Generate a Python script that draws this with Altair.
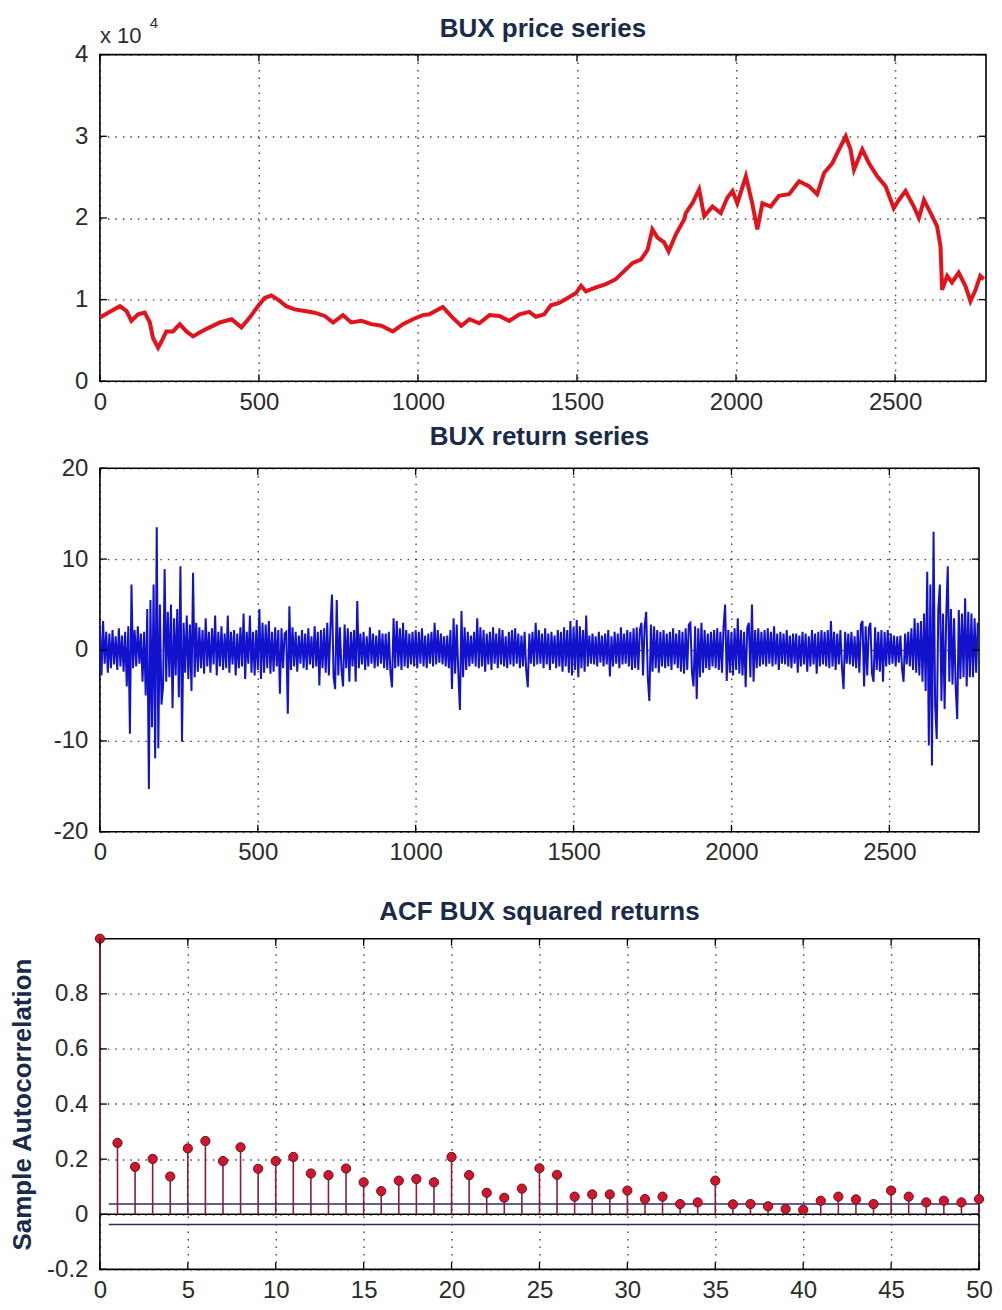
import altair as alt
import pandas as pd

FONT = "Liberation Sans"
TITLE_COLOR = "#1b2a4a"
LABEL_COLOR = "#2b2b2b"

# ---------------- data ----------------
price_t = [0, 26, 63, 84, 99, 120, 141, 157, 167, 183, 194, 209, 230, 251, 272, 293, 319, 345, 377, 414,
           445, 471, 497, 518, 539, 560, 586, 612, 644, 675, 707, 733, 764, 790, 822, 853, 885, 921, 953, 984,
           1015, 1036, 1078, 1109, 1136, 1162, 1193, 1225, 1256, 1287, 1319, 1350, 1371, 1397, 1418, 1444, 1471,
           1497, 1513, 1528, 1560, 1591, 1622, 1654, 1675, 1701, 1722, 1737, 1753, 1774, 1788, 1811, 1837, 1842,
           1863, 1884, 1900, 1926, 1952, 1973, 1989, 2004, 2031, 2051, 2067, 2083, 2109, 2135, 2167, 2198, 2229,
           2255, 2277, 2303, 2324, 2345, 2360, 2371, 2397, 2418, 2444, 2470, 2496, 2512, 2533, 2559, 2575, 2591,
           2612, 2632, 2643, 2648, 2664, 2679, 2700, 2721, 2737, 2753, 2768, 2779]
price_v = [7800, 8400, 9200, 8600, 7400, 8200, 8400, 7200, 5300, 4100, 4900, 6100, 6100, 7000, 6100, 5500,
           6100, 6600, 7200, 7600, 6600, 7800, 9200, 10200, 10500, 10000, 9200, 8800, 8600, 8400, 8000, 7200,
           8100, 7200, 7400, 7000, 6800, 6100, 7000, 7600, 8100, 8200, 9100, 7800, 6800, 7600, 7100, 8100, 8000,
           7400, 8200, 8500, 7900, 8200, 9300, 9600, 10200, 10800, 11700, 11000, 11500, 11900, 12500, 13700,
           14500, 14900, 16100, 18600, 17600, 17000, 15900, 18000, 19800, 20600, 21800, 23500, 20200, 21400,
           20600, 22500, 23300, 21800, 25100, 21800, 18600, 21800, 21400, 22700, 22900, 24500, 23900, 22900,
           25500, 26700, 28400, 30000, 28400, 25900, 28400, 26700, 25100, 23900, 21200, 22200, 23300, 21400,
           20000, 22200, 20600, 19000, 16500, 11200, 12900, 12100, 13300, 11700, 9800, 11200, 12900, 12500]

# BUX returns, one value every 5 trading days (rows of 100 days)
returns = [
    2.5, -2.8, 3.2, -1.5, 2.0, -2.5, 1.8, -2.0, 2.2, -1.6, 1.5, -2.2, 2.4, -1.8, 1.6, -2.4, 2.0, -4.0, 2.6, -9.2,
    7.2, -2.0, 2.2, -1.8, 2.6, -1.5, 1.8, -3.5, 2.0, -5.0, 4.5, -15.3, 5.5, -8.5, 7.2, -11.9, 13.5, -10.8, 5.0, -6.0,
    -4.0, 8.9, -3.5, 4.2, -3.0, 5.0, -6.4, 3.5, -2.8, 4.5, -5.2, 9.2, -10.1, 3.0, -2.5, 3.8, -3.2, 2.8, -4.5, 8.5,
    -3.0, 3.0, -2.4, 2.5, -2.0, 2.2, -2.6, 3.5, -1.8, 2.0, -2.5, 2.4, -1.6, 3.8, -2.8, 2.0, -1.8, 2.6, -2.2, 1.8,
    -2.0, 3.8, -2.5, 2.0, -1.6, 2.2, -2.8, 1.8, -2.0, 2.5, -1.8, 4.0, -3.2, 2.0, -1.5, 3.8, -2.5, 2.0, -2.8, 2.2,
    -2.2, 4.5, -3.2, 3.0, -2.5, 2.8, -2.0, 3.2, -2.6, 2.0, -2.4, 2.5, -1.8, 2.2, -4.8, 2.4, -2.0, 1.8, 2.0, -7.0,
    4.8, -2.2, 2.5, -1.8, 2.0, -2.4, 1.6, -1.5, 2.2, -2.0, 1.8, -2.2, 2.4, -1.6, 1.5, -2.0, 2.6, -1.8, 2.0, -3.9,
    2.2, -2.0, 2.4, -2.5, 3.0, -2.8, 2.5, 6.1, -3.0, -4.3, 5.5, -2.8, 2.5, -2.2, -4.0, 2.8, -2.0, 2.4, -3.5, 2.0,
    -1.8, 2.2, -3.5, 5.4, -2.0, 1.8, -1.6, 2.0, -2.2, 1.5, -1.8, 2.5, -1.5, 1.8, -2.0, 1.6, -1.8, 2.2, -1.5, 1.8,
    -2.0, 1.8, -2.2, 2.0, -2.5, -4.1, 3.5, -2.0, 3.2, -1.8, 2.4, -2.2, 3.0, -1.8, 2.2, -2.0, 1.8, -1.6, 2.0, -1.8,
    2.2, -2.0, 2.0, -1.5, 2.4, -1.8, 1.6, -2.0, 1.8, -1.5, 2.0, -1.8, 3.0, -1.6, 2.2, -1.4, 1.8, -1.6, 1.5, -1.8,
    1.6, -2.0, 2.2, -4.3, 3.5, -2.6, 2.8, -2.5, -6.6, 4.3, -3.0, 2.5, -2.2, 2.0, -1.8, 1.6, -1.5, 2.0, -1.8, 3.5,
    -2.0, 2.5, -1.8, 2.2, -2.4, 1.8, -1.6, 2.0, -2.2, 2.5, -1.5, 1.8, -2.0, 2.4, -1.6, 2.2, -1.8, 1.5, -2.0, 2.0,
    -1.6, 2.2, -1.8, 2.4, -1.5, 1.8, -2.0, 1.6, -1.8, 2.0, -2.2, -4.1, 1.8, -1.5, 2.0, -1.8, 3.0, -1.6, 2.2, -1.5,
    1.8, -2.0, 2.4, -1.6, 1.8, -2.2, 2.0, -1.5, 1.6, -2.0, 2.2, -1.8, 2.0, -2.4, 2.5, -1.8, 2.2, -2.5, 3.2, -2.8,
    2.5, -2.2, 3.3, -3.0, 2.6, -2.0, 2.2, -2.4, 3.8, -1.8, 1.6, -1.5, 1.8, -1.6, 1.5, -1.8, 2.0, -1.4, 1.6, -1.8,
    1.8, -1.6, 2.2, -2.9, 1.5, -1.8, 2.0, -1.5, 1.8, -2.0, 2.5, -1.6, 1.8, -1.5, 2.2, -1.8, 2.0, -2.2, 2.4, -2.0,
    2.5, -2.2, 2.2, 3.0, -2.8, 2.6, 4.2, -3.0, -5.6, 2.8, -2.4, 2.6, -2.0, 2.2, -2.5, 2.0, -1.8, 2.2, -2.0, 1.8,
    -1.8, 2.0, -2.2, 2.4, -1.6, 1.8, -2.0, 2.2, -2.4, 2.0, -2.6, 2.4, -2.2, 2.8, 3.0, -2.5, -4.0, 2.6, -5.4, 2.4,
    -3.0, 3.0, -2.5, 2.2, -2.0, 1.8, -2.2, 2.0, -1.8, 2.2, -2.0, 2.4, -2.2, 2.0, -2.5, 2.6, 5.0, -3.4, 2.2, -2.5,
    2.0, -2.8, 2.4, -2.2, 3.5, -2.6, 2.2, -2.8, 2.0, -4.1, 2.4, 3.0, -3.0, 5.0, -3.5, 2.2, -2.0, 2.4, -1.8, 2.0,
    -1.6, 2.2, -1.8, 2.4, -1.5, 2.0, -1.8, 2.6, -1.6, 1.8, -2.2, 2.0, -1.5, 1.8, -1.6, 2.2, -1.8, 1.6, -2.0, 1.8,
    -1.5, 1.8, -2.5, 1.6, -1.8, 2.0, -1.6, 1.8, -2.4, 1.5, -1.8, 2.2, -1.6, 1.8, -2.6, 2.0, -1.8, 2.2, -1.6, 2.0,
    -1.8, 2.2, -2.0, 3.2, -1.8, 2.0, -2.2, 1.8, -1.6, 2.2, -2.0, -4.3, 2.0, -1.5, 1.8, -1.6, 2.0, -1.8, 1.5, -2.0,
    2.2, -2.5, 2.8, 3.2, -4.0, 2.6, -2.8, 2.4, 3.0, -2.6, -3.5, 2.5, -2.2, 2.0, -2.4, 2.2, -3.5, 2.0, -1.8, 2.2,
    -1.6, 1.8, -1.5, 1.6, -1.8, 1.5, -1.4, 1.6, -2.0, -3.5, 1.8, -1.6, 2.0, -1.8, 2.4, -2.2, 3.5, -2.5, 3.0, -2.8,
    3.2, -3.5, 4.0, -4.5, 8.6, -10.5, 7.2, -12.7, 13.0, -6.0, -9.8, 4.5, 7.2, -5.6, 4.0, -6.5, 3.5, 9.2, -3.5, 4.5,
    -3.8, 3.5, -4.0, -7.6, 4.4, -3.2, 4.0, -3.0, 5.7, -4.0, 4.2, -3.0, 4.0, -3.0, 3.5, -2.5, 3.0,
]
return_step = 5

acf_vals = [1.0, 0.259, 0.172, 0.201, 0.137, 0.239, 0.266, 0.193, 0.243, 0.165, 0.193,
            0.208, 0.148, 0.142, 0.166, 0.116, 0.084, 0.122, 0.128, 0.116, 0.208,
            0.142, 0.078, 0.060, 0.093, 0.167, 0.143, 0.064, 0.072, 0.072, 0.086,
            0.055, 0.064, 0.037, 0.043, 0.122, 0.036, 0.037, 0.029, 0.019, 0.016,
            0.049, 0.064, 0.054, 0.037, 0.086, 0.064, 0.043, 0.049, 0.043, 0.055]
conf_bound = [0.037, -0.037]
bound_lags = [0.5, 50]

price_xticks = [0, 500, 1000, 1500, 2000, 2500]
price_yticks = [0, 10000, 20000, 30000, 40000]
ret_yticks = [-20, -10, 0, 10, 20]
acf_xticks = [0, 5, 10, 15, 20, 25, 30, 35, 40, 45, 50]
acf_yticks = [-0.2, 0, 0.2, 0.4, 0.6, 0.8]
multiplier = ["x 10", "4"]

titles = ["BUX price series", "BUX return series", "ACF BUX squared returns"]
ylabel_acf = "Sample Autocorrelation"

# ---------------- layout ----------------
W1, H1 = 887, 327
W2, H2 = 880, 364
W3, H3 = 880, 331
TICK = 7

price_df = pd.DataFrame({"t": price_t, "v": price_v})
ret_df = pd.DataFrame({"t": [i * return_step for i in range(len(returns))], "v": returns})
acf_df = pd.DataFrame({"t": list(range(len(acf_vals))), "v": acf_vals})
bounds_df = pd.DataFrame({"t": [bound_lags[0]] * 2, "t2": [bound_lags[1]] * 2, "v": conf_bound})
base_df = pd.DataFrame({"t": [0], "t2": [bound_lags[1]], "v": [0]})


def inward_ticks(xvals, yvals, W, H):
    xt = pd.DataFrame({"t": xvals})
    yt = pd.DataFrame({"v": yvals})
    r = dict(color="black", strokeWidth=1.3)
    return [
        alt.Chart(xt).mark_rule(**r).encode(x="t:Q", y=alt.value(H), y2=alt.value(H - TICK)),
        alt.Chart(xt).mark_rule(**r).encode(x="t:Q", y=alt.value(0), y2=alt.value(TICK)),
        alt.Chart(yt).mark_rule(**r).encode(y="v:Q", x=alt.value(0), x2=alt.value(TICK)),
        alt.Chart(yt).mark_rule(**r).encode(y="v:Q", x=alt.value(W), x2=alt.value(W - TICK)),
    ]


def title(text, off):
    return alt.TitleParams(text=text, font=FONT, fontSize=26, fontWeight="bold",
                           color=TITLE_COLOR, offset=off)


int_label = "datum.value < 0 ? '-' + (-datum.value) : '' + datum.value"

# ---- price panel ----
xs1 = alt.X("t:Q", scale=alt.Scale(domain=[0, 2786], nice=False, zero=False),
            axis=alt.Axis(values=price_xticks, labelExpr=int_label, title=None))
ys1 = alt.Y("v:Q", scale=alt.Scale(domain=[0, 40000], nice=False),
            axis=alt.Axis(values=price_yticks, labelExpr="'' + (datum.value / 10000)", title=None))
price_line = alt.Chart(price_df).mark_line(color="#e3121b", strokeWidth=4, strokeJoin="miter").encode(x=xs1, y=ys1)
mult = alt.Chart(pd.DataFrame({"txt": [multiplier[0]]})).mark_text(
    align="left", baseline="alphabetic", font=FONT, fontSize=22, color=LABEL_COLOR
).encode(x=alt.value(0), y=alt.value(-12), text="txt:N")
expo = alt.Chart(pd.DataFrame({"txt": [multiplier[1]]})).mark_text(
    align="left", baseline="alphabetic", font=FONT, fontSize=15, color=LABEL_COLOR
).encode(x=alt.value(50), y=alt.value(-27), text="txt:N")
top_title = alt.Chart(pd.DataFrame({"txt": [titles[0]]})).mark_text(
    align="center", baseline="alphabetic", font=FONT, fontSize=26, fontWeight="bold", color=TITLE_COLOR
).encode(x=alt.value(W1 / 2), y=alt.value(-18), text="txt:N")
top = alt.layer(price_line, *inward_ticks(price_xticks, price_yticks, W1, H1), mult, expo, top_title).properties(
    width=W1, height=H1)

# ---- return panel ----
xs2 = alt.X("t:Q", scale=alt.Scale(domain=[0, 2784], nice=False, zero=False),
            axis=alt.Axis(values=price_xticks, labelExpr=int_label, title=None))
ys2 = alt.Y("v:Q", scale=alt.Scale(domain=[-20, 20], nice=False),
            axis=alt.Axis(values=ret_yticks, labelExpr=int_label, title=None))
ret_line = alt.Chart(ret_df).mark_line(color="#1212cc", strokeWidth=2.0).encode(x=xs2, y=ys2)
mid = alt.layer(ret_line, *inward_ticks(price_xticks, ret_yticks, W2, H2)).properties(
    width=W2, height=H2, title=title(titles[1], 6))

# ---- ACF panel ----
acf_label = "datum.value == 0 ? '0' : (datum.value < 0 ? '-' + format(-datum.value, '.1f') : format(datum.value, '.1f'))"
xs3 = alt.X("t:Q", scale=alt.Scale(domain=[0, 50], nice=False, zero=False),
            axis=alt.Axis(values=acf_xticks, labelExpr=int_label, title=None))
ys3 = alt.Y("v:Q", scale=alt.Scale(domain=[-0.2, 1.0], nice=False),
            axis=alt.Axis(values=acf_yticks, labelExpr=acf_label, title=ylabel_acf,
                          titleFont=FONT, titleFontSize=26, titleFontWeight="bold",
                          titleColor=TITLE_COLOR, titlePadding=11))
base_line = alt.Chart(base_df).mark_rule(color="black", strokeWidth=1.5).encode(x=xs3, x2="t2:Q", y=ys3)
bound_lines = alt.Chart(bounds_df).mark_rule(color="#2e2a6e", strokeWidth=1.6).encode(x="t:Q", x2="t2:Q", y="v:Q")
stems = alt.Chart(acf_df).mark_rule(color="#8a1c3e", strokeWidth=1.6).encode(x="t:Q", y="v:Q", y2=alt.datum(0))
dots = alt.Chart(acf_df).mark_circle(size=85, color="#d0162c", stroke="#6e0c20", strokeWidth=1,
                                     opacity=1).encode(x="t:Q", y="v:Q")
bot = alt.layer(base_line, bound_lines, stems, dots, *inward_ticks(acf_xticks, acf_yticks, W3, H3)).properties(
    width=W3, height=H3, title=title(titles[2], 7))

upper = alt.vconcat(top, mid, spacing=8)
chart = alt.vconcat(upper, bot, spacing=32).properties(
    padding={"left": 0, "top": 6, "right": 0, "bottom": 0}
).configure_view(
    stroke="black", strokeWidth=1.6
).configure_axis(
    labelFont=FONT, labelFontSize=24, labelColor=LABEL_COLOR, labelPadding=9,
    ticks=False, domain=False, grid=True, gridColor="#111111", gridDash=[1.5, 6],
    gridWidth=1.4, gridOpacity=0.8, labelOverlap=False, labelBound=False
).configure_axisX(labelFlush=False).configure_axisY(labelPadding=12)

chart.save("out.html", embed_options={"renderer": "svg", "actions": False})
